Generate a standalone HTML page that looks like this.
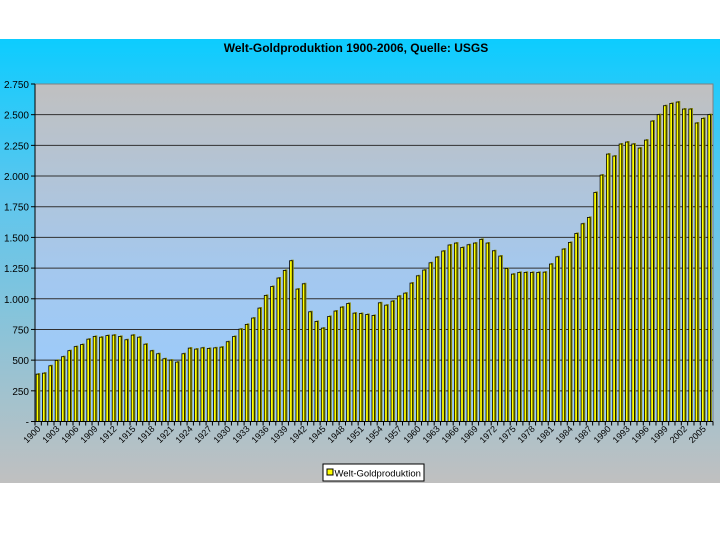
<!DOCTYPE html>
<html><head><meta charset="utf-8"><style>
html,body{margin:0;padding:0;background:#fff;width:720px;height:540px;overflow:hidden}
svg{display:block;font-family:"Liberation Sans",sans-serif}
</style></head><body>
<svg id="chart" width="720" height="540">
<defs>
<linearGradient id="outer" x1="0" y1="0" x2="0" y2="1">
<stop offset="0" stop-color="#0cccff"/><stop offset="0.35" stop-color="#5cc6ee"/><stop offset="1" stop-color="#c0c0c0"/>
</linearGradient>
<linearGradient id="plot" x1="0" y1="0" x2="0" y2="1">
<stop offset="0" stop-color="#c0c0c0"/><stop offset="0.55" stop-color="#a4c8ee"/><stop offset="1" stop-color="#99ccff"/>
</linearGradient>
</defs>
<rect x="0" y="39" width="720" height="444" fill="url(#outer)"/>
<rect x="35" y="84" width="678" height="337.5" fill="url(#plot)" stroke="#808080" stroke-width="1"/>
<text x="356" y="52" text-anchor="middle" font-size="12" font-weight="bold" fill="#000">Welt-Goldproduktion 1900-2006, Quelle: USGS</text>
<g id="grid"></g><g id="bars"></g><g id="axes"></g>
<g>
<rect x="323" y="464" width="101" height="17" fill="#fff" stroke="#000" stroke-width="1"/>
<rect x="327" y="469" width="6" height="6" fill="#ffff00" stroke="#000" stroke-width="1"/>
<text x="334.5" y="476.5" font-size="9.5" fill="#000">Welt-Goldproduktion</text>
</g>
</svg>
<script>
const startYear = 1900;
const values = [386,394,454,498,528,577,610,627,671,693,687,700,704,693,666,704,687,630,576,552,511,500,484,552,598,590,600,595,600,606,650,
693,753,791,843,924,1027,1100,1169,1231,1310,1079,1122,894,815,761,856,900,932,962,883,880,872,864,967,948,981,1022,1046,1128,
1187,1234,1293,1340,1389,1438,1454,1418,1440,1454,1484,1454,1391,1348,1247,1201,1215,1215,1215,1215,1217,1283,1342,1405,1459,
1532,1611,1663,1866,2008,2179,2163,2261,2277,2261,2228,2293,2448,2500,2573,2592,2603,2546,2546,2432,2470,2500];
const yTicks = [0,250,500,750,1000,1250,1500,1750,2000,2250,2500,2750];
const yTickLabels = ["-","250","500","750","1.000","1.250","1.500","1.750","2.000","2.250","2.500","2.750"];
const yMax = 2750;

const NS="http://www.w3.org/2000/svg";
const L=35,R=713,T=84,B=421.5;
const n=values.length, bw=(R-L)/n;
function xPos(i){return L+bw*(i+0.5);}
function yPos(v){return B-(v/yMax)*(B-T);}
function mk(tag,attrs,parent){const e=document.createElementNS(NS,tag);for(const k in attrs)e.setAttribute(k,attrs[k]);parent.appendChild(e);return e;}
const grid=document.getElementById('grid'),bars=document.getElementById('bars'),axes=document.getElementById('axes');
yTicks.forEach((t,i)=>{
  const y=yPos(t);
  if(t>0&&t<yMax){const g=mk('line',{x1:L,x2:R,y1:y,y2:y,stroke:'#303030','stroke-width':1},grid);
    
    }
  const tk=mk('line',{x1:L-4,x2:L,y1:y,y2:y,stroke:'#000'},axes);
  
  
  const tx=mk('text',{x:L-6,y:y+4,'text-anchor':'end','font-size':10,fill:'#000'},axes);
  tx.textContent=yTickLabels[i];
  
  
});
values.forEach((v,i)=>{
  const x=xPos(i),y=yPos(v);
  const s=mk('rect',{x:x-0.5,y:y-1,width:2.6,height:B-y+1,fill:'#8a8a00'},bars);
  
  
  const b=mk('rect',{x:x-2,y:y,width:2.6,height:B-y,fill:'#ffff00',stroke:'#000','stroke-width':0.8},bars);
  
  
});
const ax=mk('line',{x1:L,x2:R,y1:B,y2:B,stroke:'#000'},axes);


const ay=mk('line',{x1:L,x2:L,y1:T,y2:B,stroke:'#000'},axes);


for(let i=0;i<=n;i++){
  const x=L+bw*i;
  const t=mk('line',{x1:x,x2:x,y1:B,y2:B+4,stroke:'#000'},axes);
  
  
}
for(let i=0;i<n;i+=3){
  const x=xPos(i)+3,y=B+8;
  const tx=mk('text',{x:x,y:y,'text-anchor':'end','font-size':9,fill:'#000',transform:`rotate(-45 ${x} ${y})`},axes);
  tx.textContent=String(startYear+i);
  
  
}
</script>
</body></html>
